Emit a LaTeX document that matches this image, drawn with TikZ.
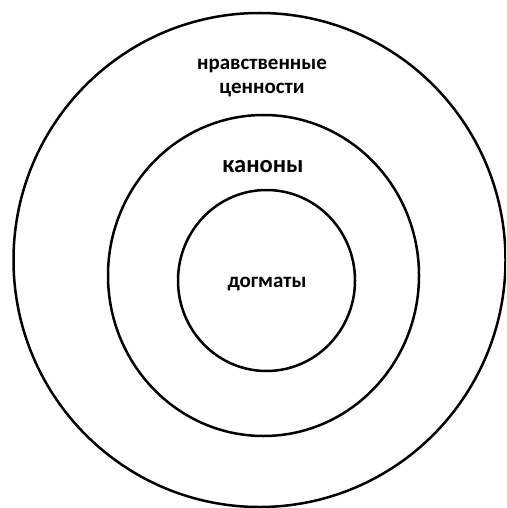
\documentclass[tikz,border=0pt]{standalone}
\usepackage{fontspec}
\setmainfont{Carlito}
\tikzset{
  ring/.style={draw=black,line width=2.5pt},
  label/.style={font=\bfseries\fontsize{21}{24}\selectfont,align=center,inner sep=0pt}
}
\begin{document}
\begin{tikzpicture}[x=1pt,y=-1pt]
  \useasboundingbox (0,0) rectangle (506,508);
  \clip (0,0) rectangle (506,508);
  \draw[ring] (259.5,260) ellipse (246 and 247);
  \draw[ring] (263.5,275.5) ellipse (155.5 and 160.5);
  \draw[ring] (266.5,280.5) ellipse (88.5 and 90.5);
  \node[label] (moral) at (262,78) {нравственные\\ценности};
  \node[label,font=\bfseries\fontsize{24.5}{28}\selectfont] (canons) at (263,167) {каноны};
  \node[label] (dogmas) at (267,284) {догматы};
\end{tikzpicture}
\end{document}
